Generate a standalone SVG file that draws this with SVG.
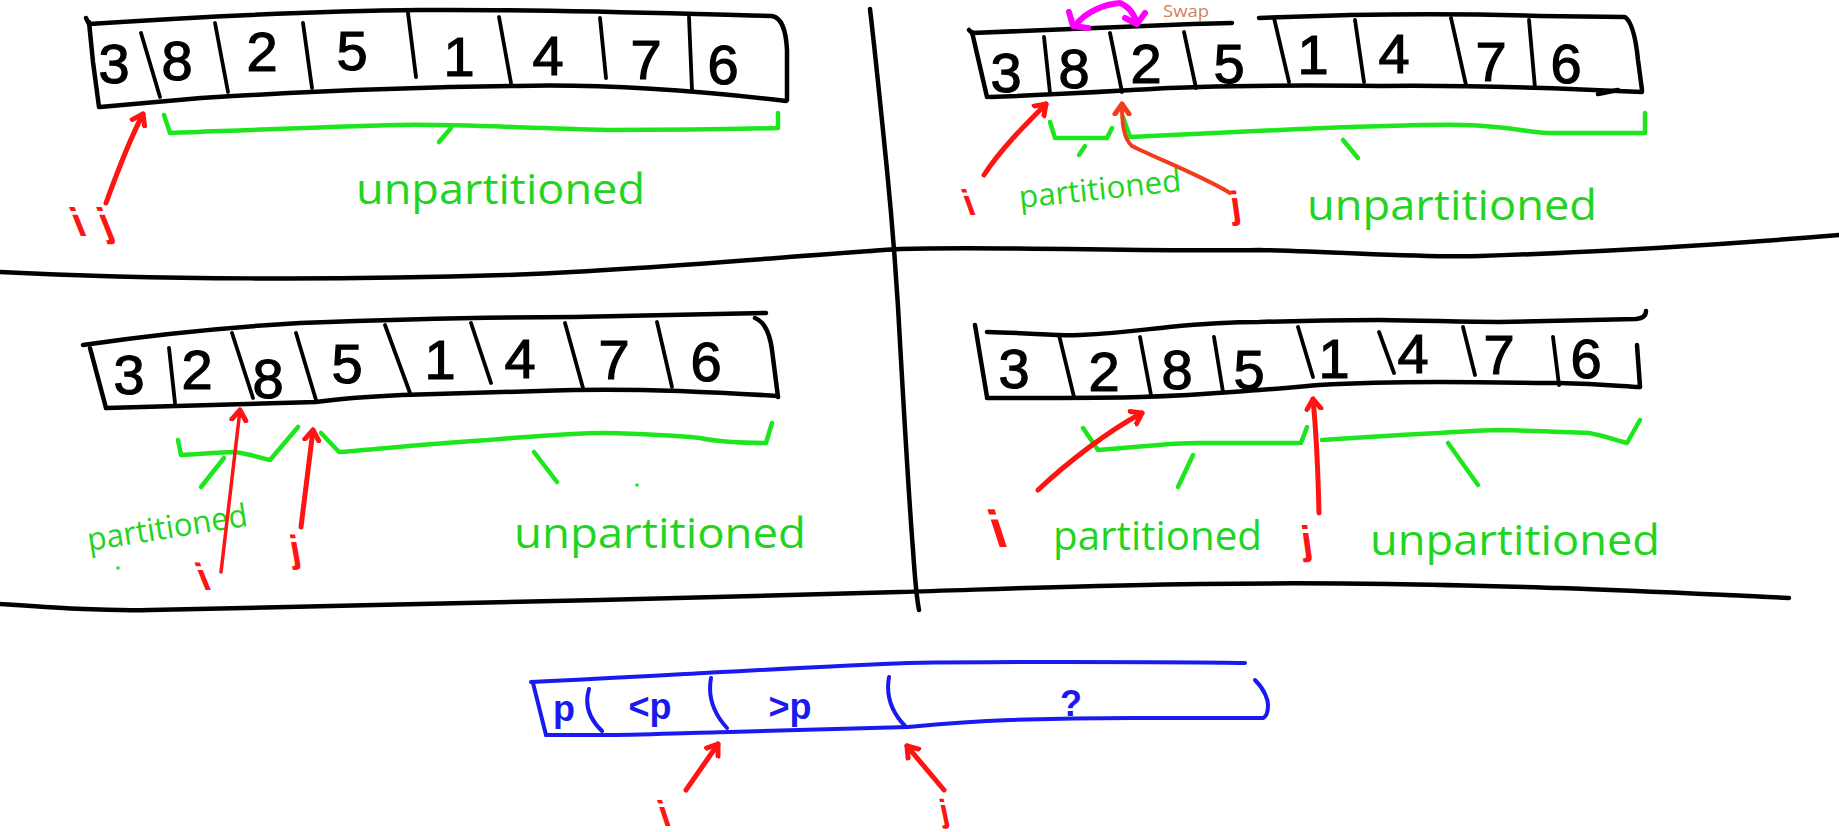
<svg xmlns="http://www.w3.org/2000/svg" width="1839" height="832" viewBox="0 0 1839 832">
  <defs>
    <style>
      .ink { fill: none; stroke: #000; stroke-width: 4.5; stroke-linecap: round; stroke-linejoin: round; }
      .cell { fill: none; stroke: #000; stroke-width: 3.8; stroke-linecap: round; }
      .grn { fill: none; stroke: #1ee61e; stroke-width: 4.5; stroke-linecap: round; stroke-linejoin: round; }
      .red { fill: none; stroke: #ff1414; stroke-width: 5; stroke-linecap: round; stroke-linejoin: round; }
      .redthin { fill: none; stroke: #ff1414; stroke-width: 3.5; stroke-linecap: round; stroke-linejoin: round; }
      .orng { fill: none; stroke: #f23c1e; stroke-width: 4; stroke-linecap: round; stroke-linejoin: round; }
      .blu { fill: none; stroke: #1a1aee; stroke-width: 4; stroke-linecap: round; stroke-linejoin: round; }
      .mag { fill: none; stroke: #ff00ff; stroke-width: 6; stroke-linecap: round; stroke-linejoin: round; }
      .dig { font-family: "Liberation Sans", Arial, sans-serif; font-size: 56px; fill: #000; stroke: #000; stroke-width: 1.2; text-anchor: middle; }
      .word { font-family: "Open Sans", "Noto Sans", sans-serif; fill: #22d422; }
      .lbl { font-family: "Liberation Sans", Arial, sans-serif; font-weight: bold; fill: #ff1414; }
      .bt { font-family: "Liberation Sans", Arial, sans-serif; font-weight: bold; font-size: 36px; fill: #1a1aee; text-anchor: middle; }
      .swap { font-family: "Open Sans", "Noto Sans", sans-serif; font-size: 17px; fill: #d4805a; }
    </style>
    <marker id="head" viewBox="-12 -10 16 20" markerWidth="16" markerHeight="20" markerUnits="userSpaceOnUse" orient="auto" refX="0" refY="0">
      <path d="M-10,-7 L0,0 L-10,7" fill="none" stroke="#ff1414" stroke-width="5" stroke-linecap="round" stroke-linejoin="round"/>
    </marker>
    <marker id="headO" viewBox="-12 -10 16 20" markerWidth="16" markerHeight="20" markerUnits="userSpaceOnUse" orient="auto" refX="0" refY="0">
      <path d="M-10,-7 L0,0 L-10,7" fill="none" stroke="#f23c1e" stroke-width="5" stroke-linecap="round" stroke-linejoin="round"/>
    </marker>
  </defs>

  <rect width="1839" height="832" fill="#fff"/>

  <!-- quadrant separators -->
  <g id="grid">
    <path class="ink" d="M870,9 C876,60 882,120 887,170 C894,240 898,300 901,360 C905,430 909,500 913,550 C915,580 917,600 919,610"/>
    <path class="ink" d="M0,272 C150,280 350,280 505,275 C650,270 800,255 900,249 C1000,246 1150,252 1259,250 C1350,252 1420,258 1480,256 C1600,252 1720,245 1839,235"/>
    <path class="ink" d="M0,604 C60,608 100,611 150,610 C300,607 450,603 600,600 C750,596 850,593 900,592 C1000,589 1100,585 1200,584 C1350,582 1450,585 1559,588 C1650,591 1720,595 1789,598"/>
  </g>

  <!-- step 1: i and j at the start -->
  <g id="panel-1">
    <path class="ink" d="M86,18 L89,24 C180,18 300,11 420,10 C560,9 680,14 772,16 C782,18 786,30 787,50 L787,100"/>
    <path class="ink" d="M786,101 C700,91 600,84 517,86 C420,87 300,92 201,98 L100,107"/>
    <path class="ink" d="M89,22 L93,62 L99,107"/>
    <path class="cell" d="M141,33 L160,97 M215,23 L228,92 M303,23 L312,88 M408,13 L416,77 M499,17 L511,83 M600,18 L606,78 M689,17 L692,90"/>
    <text class="dig" x="114" y="83">3</text>
    <text class="dig" x="177" y="80">8</text>
    <text class="dig" x="262" y="71">2</text>
    <text class="dig" x="352" y="70">5</text>
    <text class="dig" x="459" y="76">1</text>
    <text class="dig" x="548" y="75">4</text>
    <text class="dig" x="646" y="79">7</text>
    <text class="dig" x="723" y="84">6</text>
    <path class="grn" d="M164,115 L170,133 C250,130 320,127 400,125 C450,124 500,127 608,130 C680,130 740,129 778,128 L778,113"/>
    <path class="grn" d="M451,128 L439,142"/>
    <text class="word" x="356" y="204" font-size="42" textLength="289" lengthAdjust="spacingAndGlyphs">unpartitioned</text>
    <text class="lbl" font-size="40" transform="translate(78,236) skewX(22)">i<tspan dx="16">j</tspan></text>
  </g>

  <!-- step 2: swap 8 and 2 -->
  <g id="panel-2">
    <path class="ink" d="M969,30 L972,33 C1030,30 1110,28 1193,24 L1232,23"/>
    <path class="ink" d="M1259,18 C1350,14 1450,13 1540,16 L1625,17 C1632,22 1636,40 1638,60 L1642,90"/>
    <path class="ink" d="M1642,92 C1560,88 1480,85 1380,86 C1290,85 1230,86 1199,87 C1150,88 1100,93 990,97"/>
    <path class="ink" d="M1598,94 L1618,90"/>
    <path class="ink" d="M972,32 L987,97"/>
    <path class="cell" d="M1044,37 L1050,93 M1110,33 L1122,92 M1184,32 L1196,88 M1274,18 L1289,82 M1355,20 L1364,82 M1451,18 L1466,85 M1529,20 L1535,88"/>
    <text class="dig" x="1006" y="92">3</text>
    <text class="dig" x="1074" y="88">8</text>
    <text class="dig" x="1146" y="83">2</text>
    <text class="dig" x="1229" y="83">5</text>
    <text class="dig" x="1313" y="74">1</text>
    <text class="dig" x="1394" y="73">4</text>
    <text class="dig" x="1491" y="81">7</text>
    <text class="dig" x="1566" y="83">6</text>
    <path class="grn" d="M1050,122 L1055,138 L1107,138 L1112,128"/>
    <path class="grn" d="M1085,146 L1079,155"/>
    <path class="grn" d="M1123,117 L1130,137 C1200,134 1259,131 1300,129 C1380,126 1430,124 1463,125 C1510,126 1530,133 1547,133 L1645,133 L1645,113"/>
    <path class="grn" d="M1343,140 L1358,158"/>
    <text class="word" font-size="31" textLength="163" lengthAdjust="spacingAndGlyphs" transform="translate(1020,208) rotate(-6)">partitioned</text>
    <text class="word" x="1307" y="220" font-size="42" textLength="290" lengthAdjust="spacingAndGlyphs">unpartitioned</text>
    <text class="swap" x="1163" y="17" textLength="46" lengthAdjust="spacingAndGlyphs">Swap</text>
    <text class="lbl" font-size="36" transform="translate(968,215) skewX(20)">i</text>
    <text class="lbl" font-size="38" transform="translate(1232,218) skewX(8)">j</text>
  </g>

  <!-- step 3: after the swap -->
  <g id="panel-3">
    <path class="ink" d="M83,345 C150,335 230,327 300,323 C402,319 500,317 574,317 C650,316 720,314 766,313"/>
    <path class="ink" d="M755,318 C765,322 770,335 772,350 L778,397"/>
    <path class="ink" d="M778,396 C700,391 620,389 574,390 C500,392 420,395 402,395 C360,397 330,400 316,402 L106,408"/>
    <path class="ink" d="M90,348 L106,408"/>
    <path class="cell" d="M169,348 L175,403 M232,333 L253,398 M296,333 L316,400 M385,325 L410,393 M471,323 L491,383 M565,323 L583,388 M657,322 L672,387"/>
    <text class="dig" x="129" y="394">3</text>
    <text class="dig" x="197" y="389">2</text>
    <text class="dig" x="268" y="398">8</text>
    <text class="dig" x="347" y="383">5</text>
    <text class="dig" x="440" y="379">1</text>
    <text class="dig" x="520" y="378">4</text>
    <text class="dig" x="614" y="379">7</text>
    <text class="dig" x="706" y="381">6</text>
    <path class="grn" d="M178,440 L181,455 C200,454 220,452 235,452 C250,454 260,458 270,460 L298,427"/>
    <path class="grn" d="M224,458 L201,487"/>
    <path class="grn" d="M321,433 L339,452 C400,447 450,442 488,440 C540,436 570,433 603,433 C650,434 680,436 700,438 C720,442 740,443 766,443 L772,423"/>
    <path class="grn" d="M534,452 L557,482"/>
    <circle cx="637" cy="485" r="1.8" fill="#1ee61e"/>
    <circle cx="118" cy="568" r="1.8" fill="#1ee61e"/>
    <text class="word" font-size="32" textLength="162" lengthAdjust="spacingAndGlyphs" transform="translate(89,551) rotate(-9)">partitioned</text>
    <text class="word" x="514" y="548" font-size="42" textLength="292" lengthAdjust="spacingAndGlyphs">unpartitioned</text>
    <text class="lbl" font-size="38" transform="translate(203,590) skewX(22)">i</text>
    <text class="lbl" font-size="38" transform="translate(292,562) skewX(10)">j</text>
  </g>

  <!-- step 4: j moves on -->
  <g id="panel-4">
    <path class="ink" d="M987,332 C1030,333 1060,336 1080,335 C1120,333 1140,330 1169,327 C1200,324 1230,322 1259,322 C1320,320 1350,320 1379,320 C1440,321 1470,322 1499,322 C1560,321 1600,320 1636,319 Q1646,318 1646,311"/>
    <path class="ink" d="M975,325 L987,397"/>
    <path class="ink" d="M987,398 C1060,398 1110,398 1140,397 C1200,395 1230,392 1259,390 C1290,388 1305,386 1319,385 C1370,382 1400,382 1439,382 C1500,382 1530,383 1559,383 C1600,384 1620,386 1640,387"/>
    <path class="ink" d="M1637,345 L1640,387"/>
    <path class="cell" d="M1059,335 L1074,397 M1140,337 L1151,395 M1214,337 L1223,392 M1298,327 L1313,377 M1379,332 L1394,373 M1463,327 L1475,375 M1553,337 L1559,385"/>
    <text class="dig" x="1014" y="388">3</text>
    <text class="dig" x="1104" y="391">2</text>
    <text class="dig" x="1177" y="389">8</text>
    <text class="dig" x="1249" y="389">5</text>
    <text class="dig" x="1334" y="378">1</text>
    <text class="dig" x="1413" y="373">4</text>
    <text class="dig" x="1499" y="374">7</text>
    <text class="dig" x="1586" y="378">6</text>
    <path class="grn" d="M1083,428 L1098,450 C1150,446 1170,443 1199,443 C1250,443 1280,443 1301,443 L1307,427"/>
    <path class="grn" d="M1193,455 L1178,487"/>
    <path class="grn" d="M1322,440 C1380,436 1420,434 1439,433 C1470,431 1490,430 1499,430 C1540,431 1570,432 1589,433 C1605,436 1615,440 1627,443 L1640,420"/>
    <path class="grn" d="M1448,443 L1478,485"/>
    <text class="word" x="1053" y="550" font-size="40" textLength="209" lengthAdjust="spacingAndGlyphs">partitioned</text>
    <text class="word" x="1370" y="555" font-size="42" textLength="290" lengthAdjust="spacingAndGlyphs">unpartitioned</text>
    <text class="lbl" font-size="52" transform="translate(996,547) skewX(18)">i</text>
    <text class="lbl" font-size="40" transform="translate(1303,554) skewX(8)">j</text>
  </g>

  <!-- general layout: pivot, <p, >p, unknown -->
  <g id="layout">
    <path class="blu" d="M531,682 C600,679 650,676 704,673 C780,669 850,665 908,663 C980,662 1020,662 1061,662 C1150,662 1200,662 1245,663"/>
    <path class="blu" d="M1255,680 C1265,690 1268,700 1268,705 Q1268,716 1263,718"/>
    <path class="blu" d="M1263,718 C1200,718 1160,718 1133,718 C1080,718 1040,719 1010,720 C960,722 930,725 908,727 C820,729 770,731 730,732 C680,733 640,735 602,735 L546,735"/>
    <path class="blu" d="M533,683 L546,735"/>
    <path class="blu" d="M589,689 Q582,712 602,731 M711,678 Q706,705 727,728 M889,677 Q884,705 906,727"/>
    <text class="bt" x="564" y="721">p</text>
    <text class="bt" x="650" y="719">&lt;p</text>
    <text class="bt" x="790" y="719">&gt;p</text>
    <text class="bt" x="1071" y="716" font-size="44">?</text>
    <text class="lbl" font-size="36" transform="translate(663,826) skewX(18)">i</text>
    <text class="lbl" font-size="32" transform="translate(942,822) skewX(12)">j</text>
  </g>

  <!-- pointer arrows -->
  <g id="arrows">
    <path class="red" marker-end="url(#head)" d="M106,203 C118,170 132,135 143,114"/>
    <path class="red" marker-end="url(#head)" d="M984,175 C1000,150 1025,125 1046,104"/>
    <path class="orng" marker-end="url(#headO)" d="M1230,193 C1200,175 1160,160 1132,146 C1123,138 1122,122 1122,104"/>
    <path class="redthin" marker-end="url(#head)" d="M221,572 L240,410"/>
    <path class="red" marker-end="url(#head)" d="M301,527 L313,430"/>
    <path class="red" marker-end="url(#head)" d="M1038,490 C1070,460 1110,430 1142,413"/>
    <path class="red" marker-end="url(#head)" d="M1319,513 C1318,470 1316,430 1313,399"/>
    <path class="red" marker-end="url(#head)" d="M686,790 L718,744"/>
    <path class="red" marker-end="url(#head)" d="M944,790 L907,746"/>
    <path class="mag" d="M1076,25 C1085,12 1105,4 1120,3 C1128,6 1134,14 1137,23"/>
    <path class="mag" d="M1069,12 L1073,26 L1088,28 M1125,18 L1137,24 L1145,13"/>
  </g>
</svg>
